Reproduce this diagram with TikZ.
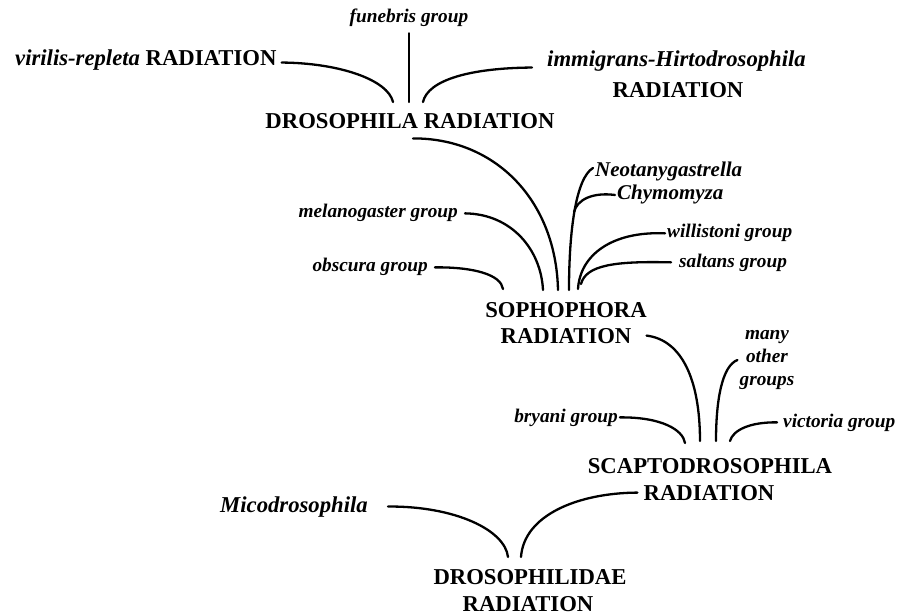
\documentclass[tikz,border=0pt]{standalone}
\usepackage{fontspec}
\setmainfont{Liberation Serif}
\usepackage{amsmath}

\begin{document}
\begin{tikzpicture}[x=1pt, y=-1pt,
		rad/.style={font=\bfseries\fontsize{22.7}{26}\selectfont, inner sep=2pt},
		grp/.style={font=\bfseries\itshape\fontsize{19.3}{23}\selectfont, inner sep=2pt},
		gen/.style={font=\bfseries\itshape\fontsize{21}{24}\selectfont, inner sep=2pt},
		branch/.style={line width=2.3pt, line cap=round}]
				\useasboundingbox (0, 0) rectangle (898, 615);
				\node[grp, anchor=base] (FG)at(409, 23) {funebris group};
				\node[rad, anchor=base west] (VR)at(13, 66) {\textit{virilis-repleta} RADIATION};
				\node[rad, anchor=base west] (IH)at(545, 67) {\textit{immigrans-Hirtodrosophila}};
				\node[rad, anchor=base] (IHr)at(678, 98) {RADIATION};
				\node[rad, anchor=base] (DR)at(410, 129) {DROSOPHILA RADIATION};
				\node[gen, anchor=base west] (NT)at(593, 177) {Neotanygastrella};
				\node[gen, anchor=base west] (CH)at(615, 200) {Chymomyza};
				\node[grp, anchor=base east] (MG)at(460, 218) {melanogaster group};
				\node[grp, anchor=base west] (WI)at(665, 238) {willistoni group};
				\node[grp, anchor=base west] (SA)at(677, 267) {saltans group};
				\node[grp, anchor=base east] (OB)at(430, 272) {obscura group};
				\node[rad, anchor=base] (SO)at(566, 317) {SOPHOPHORA};
				\node[rad, anchor=base] (SOr)at(566, 343) {RADIATION};
				\node[grp, align=center] (MO)at(767, 360) {many\\other\\groups};
				\node[grp, anchor=base east] (BR)at(620, 422) {bryani group};
				\node[grp, anchor=base west] (VI)at(781, 427) {victoria group};
				\node[rad, anchor=base] (SC)at(710, 473) {SCAPTODROSOPHILA};
				\node[rad, anchor=base] (SCr)at(709, 500) {RADIATION};
				\node[rad, anchor=base west] (MI)at(218, 512) {\textit{Micodrosophila}};
				\node[rad, anchor=base] (DE)at(530, 584) {DROSOPHILIDAE};
				\node[rad, anchor=base] (DEr)at(528, 611) {RADIATION};

				\coordinate (dV)at(393, 102);
				\coordinate (dF)at(409, 102);
				\coordinate (dI)at(423, 102);
				\coordinate (sD)at(558, 290);
				\coordinate (sM)at(543, 290);
				\coordinate (sO)at(503, 289);
				\coordinate (sN)at(569, 290);
				\coordinate (sC)at(574, 212);
				\coordinate (sW)at(578, 289);
				\coordinate (sS)at(581, 284);
				\coordinate (cS)at(700, 441);
				\coordinate (cM)at(716, 441);
				\coordinate (cB)at(685, 443);
				\coordinate (cV)at(730, 441);
				\coordinate (eS)at(521, 557);
				\coordinate (eM)at(508, 557);

				\draw[branch] ([xshift=3pt, yshift=-2pt]VR.east) .. controls (340, 63) and (388, 80) .. (dV);
				\draw[branch] ([yshift=-4pt]FG.south) -- (dF);
				\draw[branch] ([xshift=-13pt, yshift=-6pt]IH.west) .. controls (470, 68) and (428, 80) .. (dI);
				\draw[branch] ([xshift=3pt, yshift=-7pt]DR.south) .. controls (495, 138) and (556, 200) .. (sD);
				\draw[branch] ([xshift=5pt]MG.east) .. controls (512, 214) and (541, 250) .. (sM);
				\draw[branch] ([xshift=5pt]OB.east) .. controls (475, 267) and (501, 275) .. (sO);
				\draw[branch] ([yshift=4pt]NT.west) .. controls (576, 178) and (569, 230) .. (sN);
				\draw[branch] (CH.west) .. controls (592, 192) and (577, 200) .. (sC);
				\draw[branch] (WI.west) .. controls (612, 231) and (580, 255) .. (sW);
				\draw[branch] ([xshift=-6pt]SA.west) .. controls (615, 261) and (586, 265) .. (sS);
				\draw[branch] ([xshift=13pt]SOr.east) .. controls (682, 340) and (700, 380) .. (cS);
				\draw[branch] (MO.west) .. controls (722, 366) and (716, 400) .. (cM);
				\draw[branch] (BR.east) .. controls (662, 417) and (683, 430) .. (cB);
				\draw[branch] ([xshift=-4pt]VI.west) .. controls (750, 422) and (733, 430) .. (cV);
				\draw[branch] ([xshift=-4pt]SCr.west) .. controls (578, 493) and (524, 515) .. (eS);
				\draw[branch] ([xshift=18pt]MI.east) .. controls (455, 506) and (505, 530) .. (eM);
			\end{tikzpicture}
\end{document}
